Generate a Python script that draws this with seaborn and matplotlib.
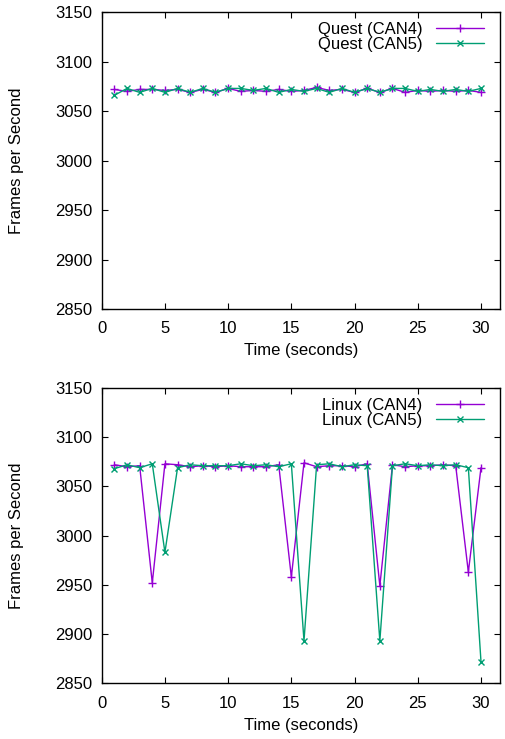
import matplotlib
matplotlib.use('Agg')
import matplotlib.pyplot as plt
import pandas as pd
import seaborn as sns

# Data
seconds = list(range(1, 31))

quest_can4 = [3072, 3070, 3072, 3072, 3071, 3072, 3069, 3072, 3069, 3073,
              3070, 3071, 3070, 3072, 3070, 3071, 3074, 3071, 3072, 3069,
              3073, 3069, 3073, 3069, 3071, 3070, 3071, 3070, 3071, 3069]
quest_can5 = [3066, 3073, 3069, 3073, 3069, 3073, 3069, 3073, 3069, 3073,
              3073, 3071, 3073, 3069, 3072, 3070, 3073, 3069, 3073, 3069,
              3073, 3069, 3073, 3073, 3070, 3072, 3070, 3072, 3070, 3073]

linux_can4 = [3072, 3070, 3071, 2952, 3073, 3072, 3070, 3071, 3070, 3071,
              3070, 3070, 3070, 3072, 2958, 3074, 3070, 3071, 3071, 3070,
              3073, 2949, 3072, 3070, 3071, 3071, 3072, 3071, 2963, 3069]
linux_can5 = [3068, 3072, 3069, 3073, 2983, 3069, 3072, 3071, 3071, 3071,
              3073, 3071, 3072, 3070, 3073, 2893, 3072, 3073, 3070, 3072,
              3071, 2893, 3071, 3073, 3071, 3072, 3071, 3072, 3069, 2872]

y_ticks = [2850, 2900, 2950, 3000, 3050, 3100, 3150]
x_ticks = [0, 5, 10, 15, 20, 25, 30]

PURPLE = '#9400d3'
GREEN = '#009e73'

sns.set_style('ticks')
plt.rcParams['font.family'] = ['Liberation Sans', 'DejaVu Sans']
plt.rcParams['font.size'] = 12
plt.rcParams['text.color'] = 'black'
plt.rcParams['axes.labelcolor'] = 'black'
plt.rcParams['xtick.color'] = 'black'
plt.rcParams['ytick.color'] = 'black'

fig = plt.figure(figsize=(5.05, 7.39), dpi=100)
ax_top = fig.add_axes([0.2014, 0.5819, 0.7886, 0.4015])
ax_bot = fig.add_axes([0.2014, 0.0754, 0.7886, 0.3996])


def draw_panel(ax, s4, s5, name):
    df = pd.DataFrame({'t': seconds, 'a': s4, 'b': s5})
    sns.lineplot(x='t', y='a', data=df, ax=ax, color=PURPLE, marker='+',
                 markersize=6, markeredgewidth=1, markeredgecolor=PURPLE,
                 linewidth=1, label=f'{name} (CAN4)')
    sns.lineplot(x='t', y='b', data=df, ax=ax, color=GREEN, marker='x',
                 markersize=4.5, markeredgewidth=1, markeredgecolor=GREEN,
                 linewidth=1, label=f'{name} (CAN5)')
    ax.set_xlim(0, 31.5)
    ax.set_ylim(2850, 3150)
    ax.set_xticks(x_ticks)
    ax.set_yticks(y_ticks)
    ax.tick_params(direction='in', top=True, right=True, length=4,
                   width=0.8, labelsize=12)
    ax.tick_params(axis='y', pad=7)
    ax.tick_params(axis='x', pad=9)
    for sp in ax.spines.values():
        sp.set_linewidth(1)
        sp.set_color('black')
    ax.set_xlabel('Time (seconds)', fontsize=12, labelpad=5)
    ax.set_ylabel('Frames per Second', fontsize=12, labelpad=22)
    ax.legend(loc='upper right', bbox_to_anchor=(1.0, 1.02), frameon=False,
              markerfirst=False, fontsize=12, handlelength=2.9,
              labelspacing=0.0, borderaxespad=0.55, handletextpad=0.8)


draw_panel(ax_top, quest_can4, quest_can5, 'Quest')
draw_panel(ax_bot, linux_can4, linux_can5, 'Linux')

fig.savefig('out.png', dpi=100)
